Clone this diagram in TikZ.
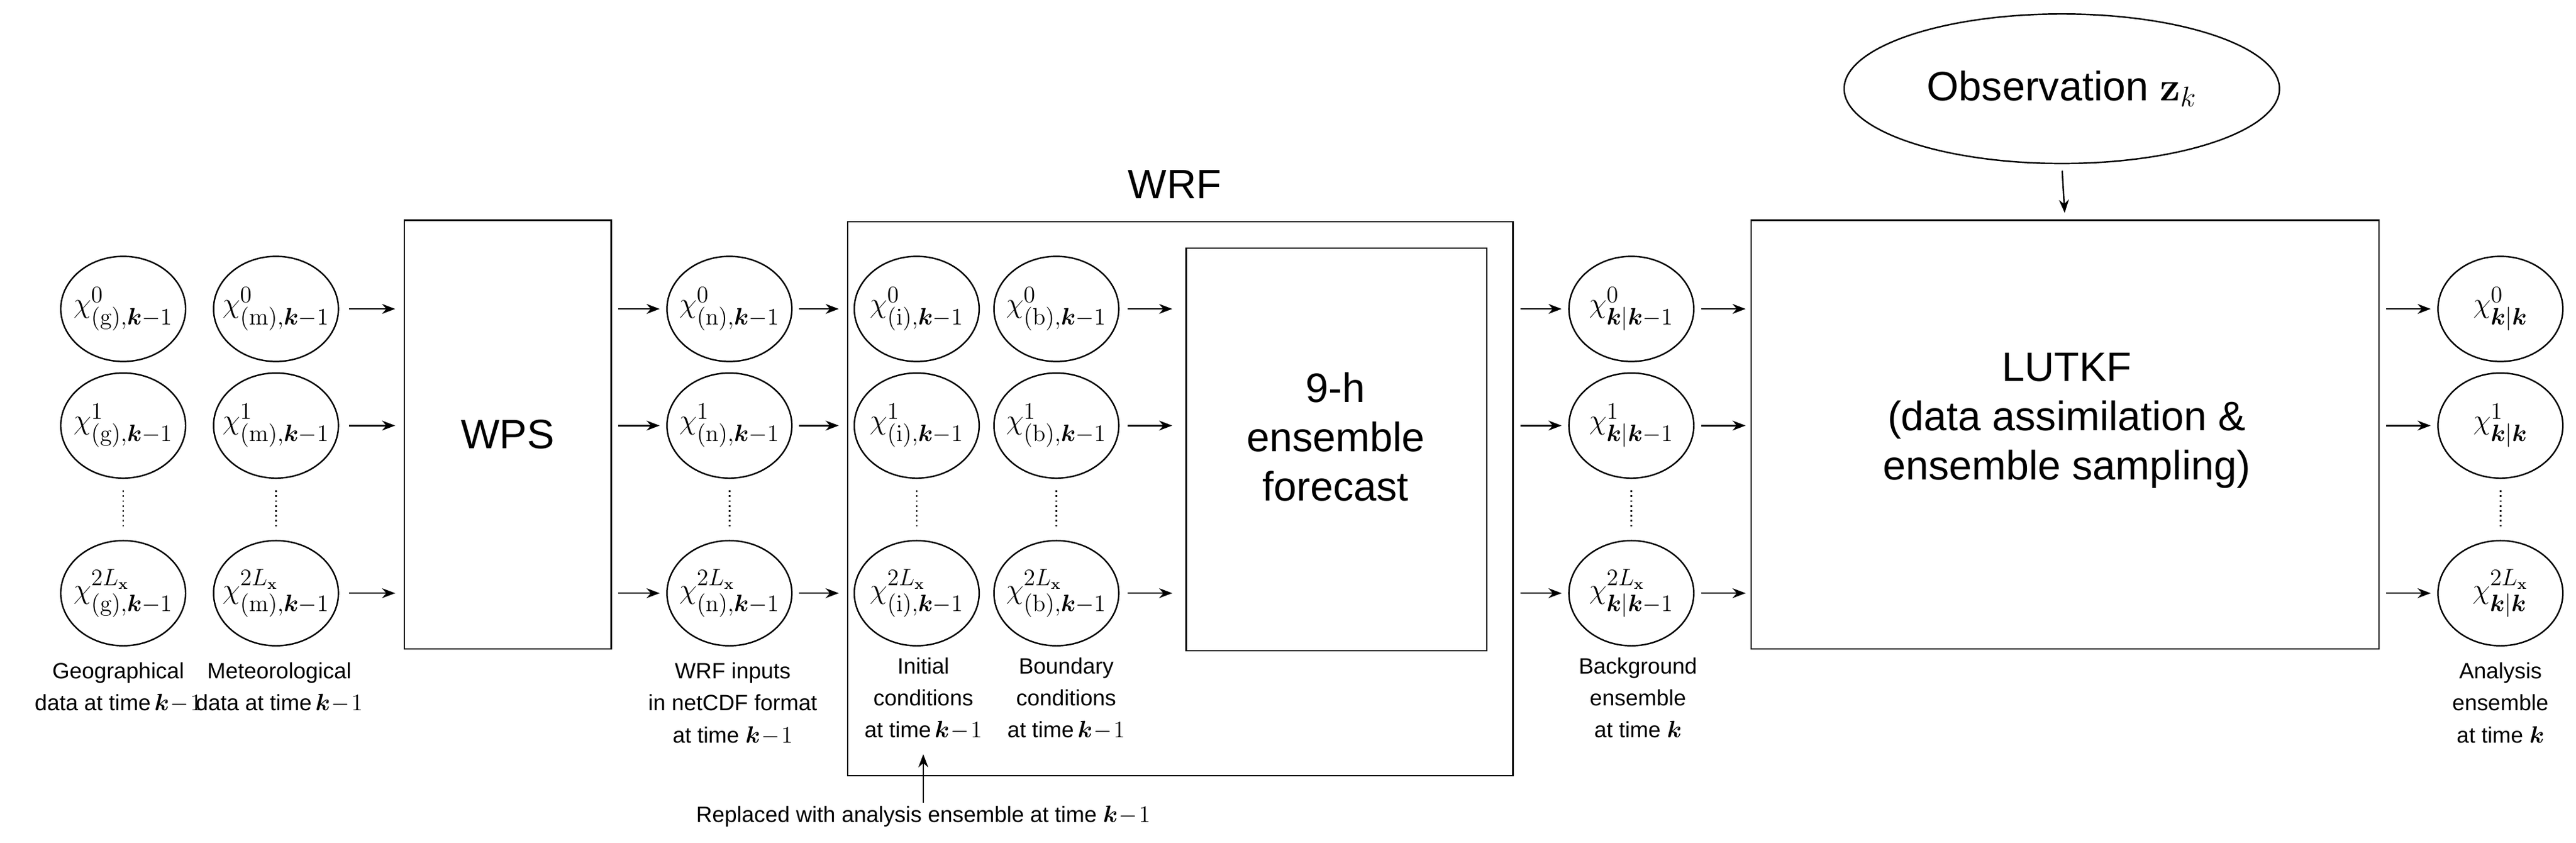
\documentclass[tikz,border=0pt]{standalone}
\usepackage{amsmath,bm}
\usepackage[no-math]{fontspec}
\setmainfont{Liberation Sans}
\usetikzlibrary{shapes.geometric,arrows.meta}
\begin{document}
\begin{tikzpicture}[x=1pt,y=-1pt,
  st/.style={draw,ellipse,line width=0.9pt,minimum width=76pt,minimum height=64pt,inner sep=0pt},
  stt/.style={inner sep=0pt,font=\fontsize{19}{21}\selectfont},
  bx/.style={draw,line width=0.9pt,inner sep=0pt},
  big/.style={font=\fontsize{25}{30}\selectfont,align=center},
  lab/.style={font=\fontsize{13.5}{19.5}\selectfont,align=center,anchor=north,inner sep=0pt},
  ar/.style={-{Stealth[length=8pt,width=6pt]},line width=0.9pt},
  dt/.style={dotted,line width=1pt}]
\useasboundingbox (0,0) rectangle (1568,513);
\def\ya{188}\def\yb{259}\def\yc{361}
% boxes
\node[bx,minimum width=126pt,minimum height=261pt] (wps) at (309,264.5) {};
\node[big] at (wps.center) {WPS};
\node[bx,minimum width=405pt,minimum height=337pt] (wrf) at (718.5,303.5) {};
\node[big,anchor=base] (wrft) at (715,121) {WRF};
\node[bx,minimum width=183pt,minimum height=245pt] (fc) at (813.5,273.5) {};
\node[big] at (813,266) {9-h\\ensemble\\forecast};
\node[bx,minimum width=382pt,minimum height=261pt] (lut) at (1257,264.5) {};
\node[big] at (1258,256) {LUTKF\\(data assimilation \&\\ensemble sampling)};
\node[draw,ellipse,line width=0.9pt,minimum width=265pt,minimum height=91pt,font=\fontsize{25}{30}\selectfont] (obs) at (1255,54) {Observation $\mathbf{z}_{k}$};
\draw[ar,shorten <=4pt,shorten >=4pt] (obs.south) -- (lut.north);
% circles
\foreach \n/\x/\s in {g/75/{(\mathrm{g}),\bm{k}-1},m/168/{(\mathrm{m}),\bm{k}-1},n/444/{(\mathrm{n}),\bm{k}-1},i/558/{(\mathrm{i}),\bm{k}-1},b/643/{(\mathrm{b}),\bm{k}-1},p/993/{\bm{k}|\bm{k}-1},a/1522/{\bm{k}|\bm{k}}}{
  \node[st] (\n0) at (\x,\ya) {};
  \node[st] (\n1) at (\x,\yb) {};
  \node[st] (\n2) at (\x,\yc) {};
  \node[stt] (\n0t) at (\n0.center) {$\chi^{0}_{\s}$};
  \node[stt] (\n1t) at (\n1.center) {$\chi^{1}_{\s}$};
  \node[stt] (\n2t) at (\n2.center) {$\chi^{2L_{\mathbf{x}}}_{\s}$};
  \draw[dt] ([yshift=-7pt]\n1.south) -- ([yshift=7pt]\n2.north);
}
% arrows
\foreach \r in {0,1,2}{
  \draw[ar,shorten <=6pt,shorten >=5pt] (m\r.east) -- (m\r.east -| wps.west);
  \draw[ar,shorten <=4pt,shorten >=4pt] (m\r.east -| wps.east) -- (n\r.west);
  \draw[ar,shorten <=4pt,shorten >=5pt] (n\r.east) -- (n\r.east -| wrf.west);
  \draw[ar,shorten <=5pt,shorten >=8pt] (b\r.east) -- (b\r.east -| fc.west);
  \draw[ar,shorten <=4pt,shorten >=4pt] (b\r.east -| wrf.east) -- (p\r.west);
  \draw[ar,shorten <=4pt,shorten >=3pt] (p\r.east) -- (p\r.east -| lut.west);
  \draw[ar,shorten <=4pt,shorten >=4pt] (p\r.east -| lut.east) -- (a\r.west);
}
% labels
\node[lab] (lg) at (72,403) {Geographical\\data at time\,$\bm{k}\!-\!1$};
\node[lab] (lm) at (170,403) {Meteorological\\data at time\,$\bm{k}\!-\!1$};
\node[lab] (ln) at (446,403) {WRF inputs\\in netCDF format\\at time $\bm{k}\!-\!1$};
\node[lab] (li) at (562,400) {Initial\\conditions\\at time\,$\bm{k}\!-\!1$};
\node[lab] (lb) at (649,400) {Boundary\\conditions\\at time\,$\bm{k}\!-\!1$};
\node[lab] (lp) at (997,400) {Background\\ensemble\\at time $\bm{k}$};
\node[lab] (la) at (1522,403) {Analysis\\ensemble\\at time $\bm{k}$};
\node[lab,anchor=center] (rep) at (562,497) {Replaced with analysis ensemble at time $\bm{k}\!-\!1$};
\draw[ar,shorten <=2pt,shorten >=1pt] (rep.north -| 562,0) -- (562,458);
\end{tikzpicture}
\end{document}
